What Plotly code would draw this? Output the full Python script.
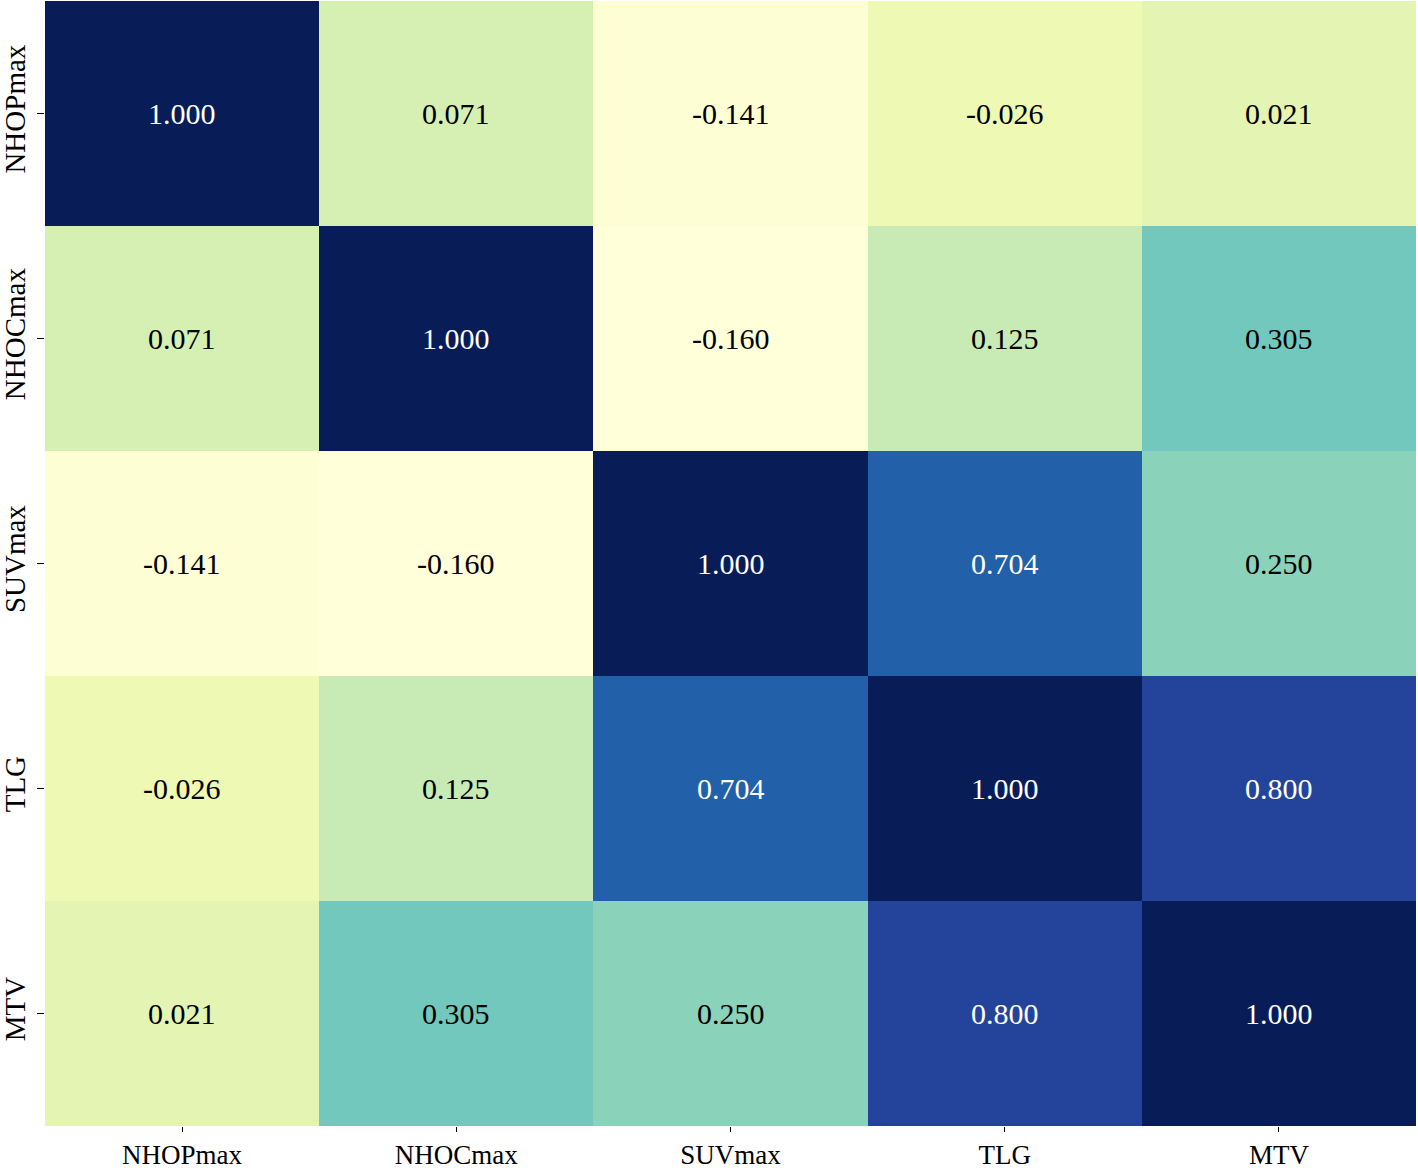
import plotly.graph_objects as go
import plotly.express as px

labels = ['NHOPmax', 'NHOCmax', 'SUVmax', 'TLG', 'MTV']

corr = [
    [1.000, 0.071, -0.141, -0.026, 0.021],
    [0.071, 1.000, -0.160, 0.125, 0.305],
    [-0.141, -0.160, 1.000, 0.704, 0.250],
    [-0.026, 0.125, 0.704, 1.000, 0.800],
    [0.021, 0.305, 0.250, 0.800, 1.000],
]

zmin = min(min(r) for r in corr)
zmax = max(max(r) for r in corr)

fig = go.Figure(go.Heatmap(
    z=corr,
    x=labels,
    y=labels,
    colorscale=px.colors.sequential.YlGnBu,
    zmin=zmin,
    zmax=zmax,
    showscale=False,
    xgap=0,
    ygap=0,
))

# seaborn-style annotations: white on dark cells, black on light
for i, row in enumerate(corr):
    for j, v in enumerate(row):
        frac = (v - zmin) / (zmax - zmin)
        fig.add_annotation(
            x=labels[j], y=labels[i], text=f'{v:.3f}', showarrow=False,
            font=dict(family='Liberation Serif', size=30,
                      color='white' if frac > 0.55 else 'black'),
        )

fig.update_layout(
    width=1418, height=1174,
    margin=dict(l=45, r=2, t=1, b=48),
    plot_bgcolor='white',
    paper_bgcolor='white',
    font=dict(family='Liberation Serif', size=29, color='black'),
)
fig.update_xaxes(ticks='outside', ticklen=5, tickcolor='black', showgrid=False,
                 zeroline=False, showline=False, automargin=False,
                 tickfont=dict(size=27))
fig.update_yaxes(ticks='outside', ticklen=7, tickcolor='black', showgrid=False,
                 zeroline=False, showline=False, autorange='reversed',
                 tickangle=-90, automargin=False)

# drop the page's default body margin so the figure sits at the corner
fig.write_html('out.html', config={'displayModeBar': False},
               post_script="document.body.style.margin='0';")
